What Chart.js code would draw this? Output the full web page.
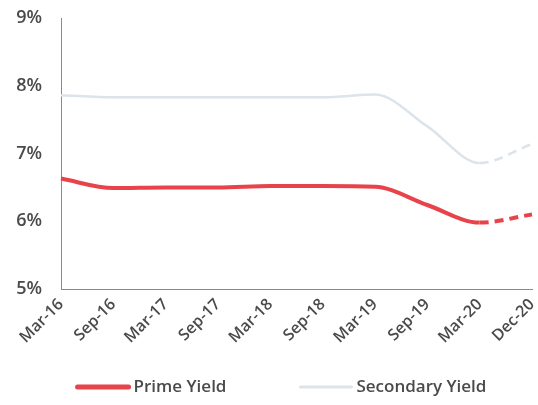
<!DOCTYPE html>
<html lang="en">

<head>
    <meta charset="UTF-8">
    <title>Prime vs Secondary Yield</title>
    <script src="https://cdn.jsdelivr.net/npm/chart.js"></script>
    <style>
        html, body { margin: 0; padding: 0; background: #fff; }
        #wrap { width: 538px; height: 405px; }
    </style>
</head>

<body>
    <div id="wrap"><canvas id="yieldChart" width="538" height="405"></canvas></div>

    <script>
        const labels = ['Mar-16', 'Sep-16', 'Mar-17', 'Sep-17', 'Mar-18', 'Sep-18', 'Mar-19', 'Sep-19', 'Mar-20', 'Dec-20'];
        const primeYield = [6.63, 6.49, 6.5, 6.5, 6.52, 6.52, 6.51, 6.24, 5.98, 6.1];
        const secondaryYield = [7.86, 7.83, 7.83, 7.83, 7.83, 7.83, 7.87, 7.4, 6.86, 7.14];
        const yTicks = [5, 6, 7, 8, 9];

        const fontFam = '"Open Sans", Lato, sans-serif';
        const textCol = '#4a4a4a';

        // last segment (Mar-20 -> Dec-20) is a forecast, dashed
        const dashLast = ctx => ctx.p1DataIndex === labels.length - 1 ? [9, 6] : undefined;

        // legend drawn by hand: wide line swatches and a big gap between the two items
        const lineLegend = {
            id: 'lineLegend',
            afterDraw(chart) {
                const ctx = chart.ctx;
                const swatch = 55, gap = 72, y = 387;
                ctx.save();
                ctx.font = '600 17px ' + fontFam;
                const items = chart.data.datasets.map(ds => ({
                    text: ds.label, color: ds.borderColor, lw: ds.legendWidth,
                    w: swatch + 3 + ctx.measureText(ds.label).width
                }));
                const total = items.reduce((a, it) => a + it.w, 0) + gap * (items.length - 1);
                let x = (chart.width - total) / 2 + 12;
                items.forEach(it => {
                    ctx.strokeStyle = it.color;
                    ctx.lineWidth = it.lw;
                    ctx.lineCap = 'round';
                    ctx.beginPath();
                    ctx.moveTo(x + 2, y);
                    ctx.lineTo(x + swatch - 2, y);
                    ctx.stroke();
                    ctx.fillStyle = textCol;
                    ctx.textBaseline = 'middle';
                    ctx.fillText(it.text, x + swatch + 3, y);
                    x += it.w + gap;
                });
                ctx.restore();
            }
        };

        new Chart(document.getElementById('yieldChart').getContext('2d'), {
            type: 'line',
            data: {
                labels: labels,
                datasets: [
                    {
                        label: 'Prime Yield',
                        data: primeYield,
                        borderColor: '#e8434b',
                        borderWidth: 4,
                        legendWidth: 5,
                        pointRadius: 0,
                        cubicInterpolationMode: 'monotone',
                        segment: { borderDash: dashLast }
                    },
                    {
                        label: 'Secondary Yield',
                        data: secondaryYield,
                        borderColor: '#dde3ea',
                        borderWidth: 2.5,
                        legendWidth: 3,
                        pointRadius: 0,
                        cubicInterpolationMode: 'monotone',
                        segment: { borderDash: dashLast }
                    }
                ]
            },
            options: {
                responsive: false,
                animation: false,
                layout: { padding: { left: 0, right: 6, top: 18, bottom: 36 } },
                plugins: {
                    tooltip: { enabled: false },
                    legend: { display: false }
                },
                scales: {
                    x: {
                        offset: false,
                        grid: { display: false, drawTicks: false },
                        border: { display: true, color: '#8a8a8a', width: 1 },
                        ticks: {
                            color: textCol,
                            minRotation: 45,
                            maxRotation: 45,
                            padding: 6,
                            font: { family: fontFam, size: 16, weight: '600' }
                        },
                        afterFit: s => {
                            s.height = 80;
                            s.paddingLeft = 0;
                            s.paddingRight = 0;
                        }
                    },
                    y: {
                        min: 5,
                        max: 9,
                        grid: { display: false, drawTicks: false },
                        border: { display: true, color: '#8a8a8a', width: 1 },
                        afterBuildTicks: s => { s.ticks = yTicks.map(v => ({ value: v })); },
                        ticks: {
                            color: textCol,
                            padding: 19,
                            callback: v => v + '%',
                            font: { family: fontFam, size: 18, weight: '600' }
                        },
                        afterFit: s => {
                            s.width = 61;
                            s.paddingTop = 0;
                            s.paddingBottom = 0;
                        }
                    }
                }
            },
            plugins: [lineLegend]
        });
    </script>
</body>

</html>
